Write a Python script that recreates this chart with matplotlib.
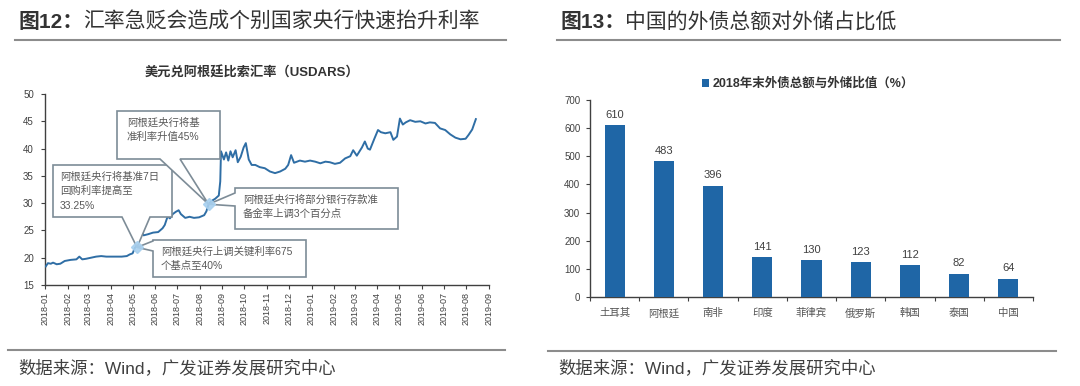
import matplotlib
matplotlib.use("Agg")
import matplotlib.pyplot as plt
import matplotlib.dates as mdates
from matplotlib.patches import Polygon
from matplotlib.lines import Line2D
import numpy as np
import pandas as pd

plt.rcParams['font.family'] = ['Liberation Sans', 'Noto Sans CJK SC', 'DejaVu Sans']

# ---------------- data ----------------
usdars_dates = [
    "2018-01-02", "2018-01-05", "2018-01-09", "2018-01-12", "2018-01-17", "2018-01-22",
    "2018-01-28", "2018-02-05", "2018-02-13", "2018-02-17", "2018-02-21", "2018-02-26",
    "2018-03-05", "2018-03-12", "2018-03-19", "2018-03-26", "2018-04-02", "2018-04-09",
    "2018-04-16", "2018-04-23", "2018-04-27", "2018-05-01", "2018-05-04", "2018-05-08",
    "2018-05-11", "2018-05-14", "2018-05-16", "2018-05-22", "2018-05-29", "2018-06-05",
    "2018-06-11", "2018-06-14", "2018-06-18", "2018-06-21", "2018-06-25", "2018-06-29",
    "2018-07-03", "2018-07-06", "2018-07-12", "2018-07-18", "2018-07-24", "2018-07-31",
    "2018-08-07", "2018-08-10", "2018-08-13", "2018-08-17", "2018-08-22", "2018-08-27",
    "2018-08-29", "2018-08-30", "2018-09-03", "2018-09-06", "2018-09-09", "2018-09-12",
    "2018-09-15", "2018-09-19", "2018-09-22", "2018-09-26", "2018-09-30", "2018-10-03",
    "2018-10-07", "2018-10-11", "2018-10-16", "2018-10-22", "2018-10-29", "2018-11-05",
    "2018-11-12", "2018-11-19", "2018-11-26", "2018-11-30", "2018-12-04", "2018-12-08",
    "2018-12-16", "2018-12-23", "2018-12-30", "2019-01-06", "2019-01-13", "2019-01-20",
    "2019-01-26", "2019-02-02", "2019-02-09", "2019-02-16", "2019-02-23", "2019-02-27",
    "2019-03-04", "2019-03-11", "2019-03-15", "2019-03-19", "2019-03-22", "2019-03-28",
    "2019-04-02", "2019-04-06", "2019-04-12", "2019-04-19", "2019-04-23", "2019-04-28",
    "2019-05-02", "2019-05-06", "2019-05-10", "2019-05-16", "2019-05-23", "2019-05-30",
    "2019-06-06", "2019-06-12", "2019-06-19", "2019-06-26", "2019-07-03", "2019-07-10",
    "2019-07-17", "2019-07-24", "2019-07-31", "2019-08-04", "2019-08-09", "2019-08-14",
]
usdars_values = [
    18.4, 19.0, 18.9, 19.1, 18.8, 18.9,
    19.4, 19.6, 19.7, 20.2, 19.7, 19.8,
    20.0, 20.2, 20.3, 20.2, 20.2, 20.2,
    20.2, 20.3, 20.6, 20.8, 21.8, 22.4,
    24.0, 24.6, 24.1, 24.3, 24.6, 24.7,
    25.4, 26.0, 27.6, 27.2, 28.0, 28.4,
    28.7, 28.0, 27.3, 27.5, 27.3, 27.4,
    27.8, 28.5, 29.8, 30.4, 30.8, 31.4,
    34.0, 39.5, 38.0, 39.3, 37.8, 39.5,
    38.4, 39.7, 37.5, 38.5, 40.2, 41.0,
    38.0, 37.0, 37.0, 36.6, 36.4, 35.8,
    35.5, 35.8, 36.3, 37.0, 38.8, 37.4,
    37.8, 37.6, 37.8, 37.6, 37.3, 37.6,
    37.5, 37.2, 37.4, 38.2, 38.6, 39.7,
    38.7, 40.2, 41.3, 40.0, 39.8, 41.8,
    43.4, 43.0, 42.8, 43.0, 41.6, 42.2,
    45.5, 44.4, 44.8, 45.2, 44.9, 45.0,
    44.6, 44.8, 44.7, 43.7, 43.4, 42.6,
    42.0, 41.7, 41.8, 42.5, 43.5, 45.4,
]

event_dates = ["2018-05-07", "2018-08-13"]
event_values = [21.9, 29.8]

countries = ["土耳其", "阿根廷", "南非", "印度", "菲律宾", "俄罗斯", "韩国", "泰国", "中国"]
debt_ratio = [610, 483, 396, 141, 130, 123, 112, 82, 64]

# ---------------- figure ----------------
W, H = 1080, 386
fig = plt.figure(figsize=(W / 100, H / 100), dpi=100)
fig.patch.set_facecolor("white")

def fx(px):
    return px / W

def fy(py):
    return 1 - py / H

dark = "#333333"
gray_txt = "#404040"
sep_col = "#8c8c8c"

# panel titles
fig.text(fx(18), fy(22), "图12：", fontsize=15, fontweight="bold", color=dark, va="center", ha="left")
fig.text(fx(83), fy(22), "汇率急贬会造成个别国家央行快速抬升利率", fontsize=15, color=dark, va="center", ha="left")
fig.text(fx(560), fy(22), "图13：", fontsize=15, fontweight="bold", color=dark, va="center", ha="left")
fig.text(fx(625), fy(22), "中国的外债总额对外储占比低", fontsize=15, color=dark, va="center", ha="left")

# separators
for x0, x1, y in [(15, 506, 40), (557, 1060, 40), (8, 505, 350), (548, 1056, 351)]:
    fig.add_artist(Line2D([fx(x0), fx(x1)], [fy(y), fy(y)], color=sep_col, lw=1.5))

# sources
fig.text(fx(18), fy(368), "数据来源：Wind，广发证券发展研究中心", fontsize=12.5, color=gray_txt, va="center", ha="left")
fig.text(fx(558), fy(368), "数据来源：Wind，广发证券发展研究中心", fontsize=12.5, color=gray_txt, va="center", ha="left")

# ---------------- left chart ----------------
ax1 = fig.add_axes([fx(45), fy(285), (489 - 45) / W, (285 - 94) / H])
dates = pd.to_datetime(usdars_dates)
line_col = "#2f6ea5"
ax1.plot(dates, usdars_values, color=line_col, lw=1.4, zorder=3)
ax1.set_xlim(pd.Timestamp("2018-01-01"), pd.Timestamp("2019-09-01"))
ax1.set_ylim(15, 50)
ax1.set_yticks(np.arange(15, 51, 5))
ax1.xaxis.set_major_locator(mdates.MonthLocator())
ax1.xaxis.set_major_formatter(mdates.DateFormatter("%Y-%m"))
for lab in ax1.get_xticklabels():
    lab.set_rotation(90)
ax1.tick_params(axis="x", labelsize=6.5, length=3, pad=2, colors=gray_txt, width=0.8)
ax1.tick_params(axis="y", labelsize=7, length=3, pad=5, colors=gray_txt, width=0.8)
for s in ["top", "right"]:
    ax1.spines[s].set_visible(False)
for s in ["left", "bottom"]:
    ax1.spines[s].set_color("#404040")
    ax1.spines[s].set_linewidth(1.0)

fig.text(fx(252), fy(73), "美元兑阿根廷比索汇率（USDARS）", fontsize=9.5, fontweight="bold",
         color=dark, ha="center", va="center")

# callouts
def ax_frac_of(ax, d, v):
    disp = ax.transData.transform((mdates.date2num(pd.Timestamp(d)), v))
    return ax.transAxes.inverted().transform(disp)

def axx(px):
    return (px - 45) / 444

def axy(py):
    return (285 - py) / 191

box_edge = "#7d8c97"
box_txt = "#595959"

def callout(box, edge, base, tip):
    x0, y0, x1, y1 = axx(box[0]), axy(box[3]), axx(box[2]), axy(box[1])
    if edge == "bottom":
        b0, b1 = axx(base[0]), axx(base[1])
        verts = [(x0, y1), (x1, y1), (x1, y0), (b1, y0), tuple(tip), (b0, y0), (x0, y0)]
    else:  # left
        b0, b1 = axy(base[0]), axy(base[1])  # b0 upper, b1 lower
        verts = [(x0, y1), (x1, y1), (x1, y0), (x0, y0), (x0, b1), tuple(tip), (x0, b0)]
    poly = Polygon(verts, closed=True, facecolor="white", edgecolor=box_edge, lw=1.2,
                   transform=ax1.transAxes, clip_on=False, zorder=5)
    ax1.add_patch(poly)

tipA = ax_frac_of(ax1, event_dates[0], event_values[0])
tipB = ax_frac_of(ax1, event_dates[1], event_values[1])

callout((53, 165, 172, 217), "bottom", (122, 150), tipA)
callout((117, 111, 220, 159), "bottom", (160, 180), tipB)
callout((235, 188, 398, 229), "left", (193, 206), tipB)
callout((153, 240, 306, 277), "left", (241, 251), tipA)

def box_text(px, py, s):
    ax1.text(axx(px), axy(py), s, transform=ax1.transAxes, fontsize=7.5, color=box_txt,
             ha="left", va="top", linespacing=1.55, zorder=6)

box_text(60, 171, "阿根廷央行将基准7日\n回购利率提高至\n33.25%")
box_text(127, 117, "阿根廷央行将基\n准利率升值45%")
box_text(243, 194, "阿根廷央行将部分银行存款准\n备金率上调3个百分点")
box_text(161, 246, "阿根廷央行上调关键利率675\n个基点至40%")

ax1.plot(pd.to_datetime(event_dates), event_values, linestyle="none", marker="D", ms=6.5,
         color="#a8d0ef", alpha=0.9, zorder=7, clip_on=False)

# ---------------- right chart ----------------
ax2 = fig.add_axes([fx(590), fy(297), (1033 - 590) / W, (297 - 100) / H])
bar_col = "#1f66a6"
xpos = np.arange(len(countries))
bars = ax2.bar(xpos, debt_ratio, width=0.41, color=bar_col, zorder=3,
               label="2018年末外债总额与外储比值（%）")
ax2.bar_label(bars, padding=4, fontsize=8, color=gray_txt)
ax2.set_xlim(-0.5, len(countries) - 0.5)
ax2.set_ylim(0, 700)
ax2.set_yticks(np.arange(0, 701, 100))
ax2.set_xticks(xpos)
ax2.set_xticklabels(countries)
ax2.set_xticks(np.arange(-0.5, len(countries), 1.0), minor=True)
ax2.tick_params(axis="x", which="major", length=0, pad=8, labelsize=7.5, colors="#555555")
ax2.tick_params(axis="x", which="minor", length=3, width=0.8, color="#404040")
ax2.tick_params(axis="y", labelsize=7, length=3, pad=4, colors=gray_txt, width=0.8)
for s in ["top", "right"]:
    ax2.spines[s].set_visible(False)
for s in ["left", "bottom"]:
    ax2.spines[s].set_color("#404040")
    ax2.spines[s].set_linewidth(1.0)

ax2.legend(loc="center", bbox_to_anchor=(fx(808), fy(84)), bbox_transform=fig.transFigure,
           frameon=False, handlelength=0.6, handleheight=0.6, handletextpad=0.3,
           prop={"size": 9, "weight": "bold"}, labelcolor=dark)

fig.savefig("out.png", dpi=100, facecolor="white")
